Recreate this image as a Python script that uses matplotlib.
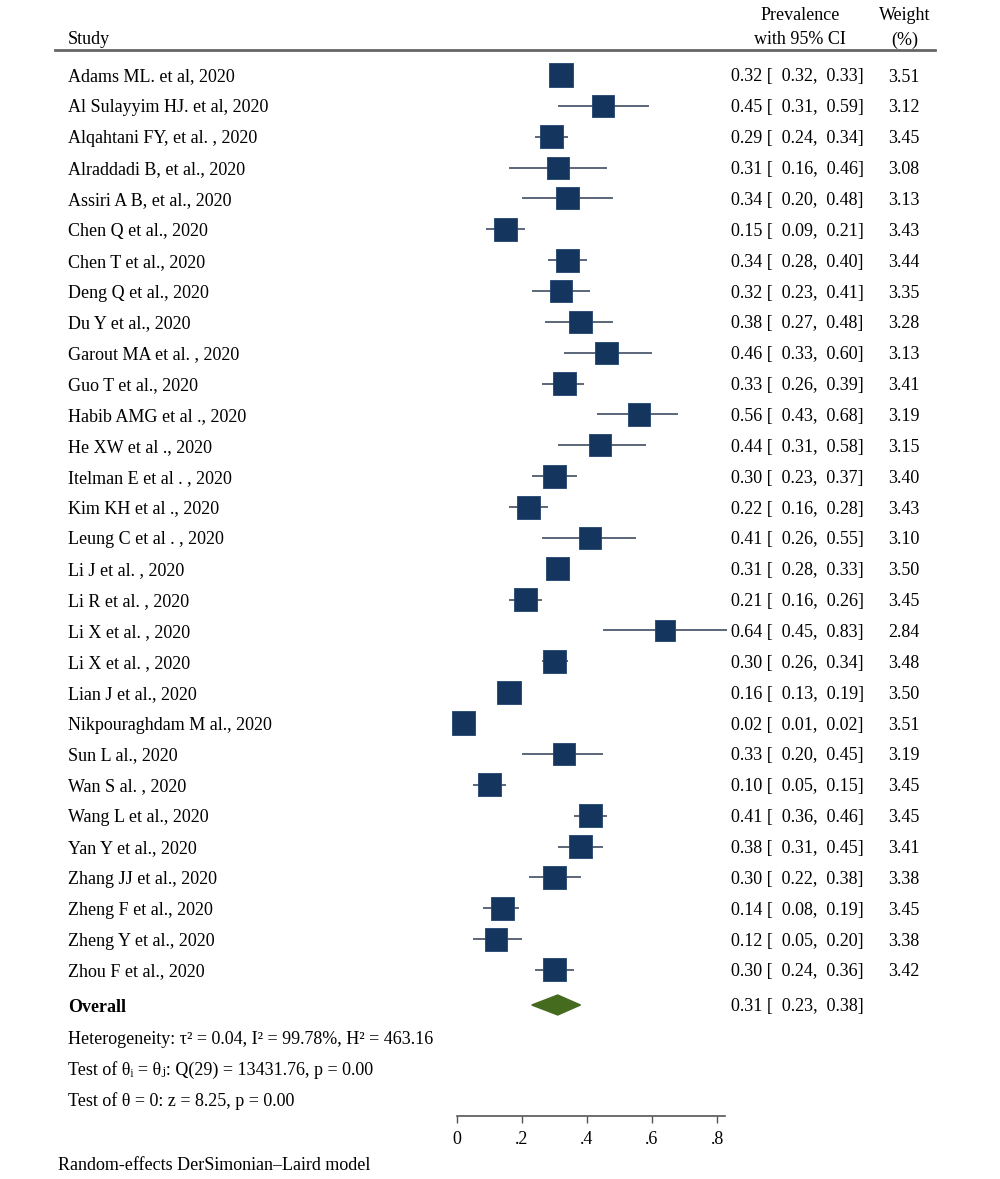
import numpy as np
import matplotlib
matplotlib.use("Agg")
import matplotlib.pyplot as plt
from matplotlib.patches import Polygon
import matplotlib.transforms as mtransforms

studies = ["Adams ML. et al, 2020", "Al Sulayyim HJ. et al, 2020", "Alqahtani FY, et al. , 2020",
           "Alraddadi B, et al., 2020", "Assiri A B, et al., 2020", "Chen Q et al., 2020",
           "Chen T et al., 2020", "Deng Q et al., 2020", "Du Y et al., 2020",
           "Garout MA et al. , 2020", "Guo T et al., 2020", "Habib AMG et al ., 2020",
           "He XW et al ., 2020", "Itelman E et al . , 2020", "Kim KH et al ., 2020",
           "Leung C et al . , 2020", "Li J et al. , 2020", "Li R et al. , 2020",
           "Li X et al. , 2020", "Li X et al. , 2020", "Lian J et al., 2020",
           "Nikpouraghdam M al., 2020", "Sun L al., 2020", "Wan S al. , 2020",
           "Wang L et al., 2020", "Yan Y et al., 2020", "Zhang JJ et al., 2020",
           "Zheng F et al., 2020", "Zheng Y et al., 2020", "Zhou F et al., 2020"]
est = [0.32, 0.45, 0.29, 0.31, 0.34, 0.15, 0.34, 0.32, 0.38, 0.46, 0.33, 0.56, 0.44, 0.30, 0.22,
       0.41, 0.31, 0.21, 0.64, 0.30, 0.16, 0.02, 0.33, 0.10, 0.41, 0.38, 0.30, 0.14, 0.12, 0.30]
lo = [0.32, 0.31, 0.24, 0.16, 0.20, 0.09, 0.28, 0.23, 0.27, 0.33, 0.26, 0.43, 0.31, 0.23, 0.16,
      0.26, 0.28, 0.16, 0.45, 0.26, 0.13, 0.01, 0.20, 0.05, 0.36, 0.31, 0.22, 0.08, 0.05, 0.24]
hi = [0.33, 0.59, 0.34, 0.46, 0.48, 0.21, 0.40, 0.41, 0.48, 0.60, 0.39, 0.68, 0.58, 0.37, 0.28,
      0.55, 0.33, 0.26, 0.83, 0.34, 0.19, 0.02, 0.45, 0.15, 0.46, 0.45, 0.38, 0.19, 0.20, 0.36]
weights = [3.51, 3.12, 3.45, 3.08, 3.13, 3.43, 3.44, 3.35, 3.28, 3.13, 3.41, 3.19, 3.15, 3.40, 3.43,
           3.10, 3.50, 3.45, 2.84, 3.48, 3.50, 3.51, 3.19, 3.45, 3.45, 3.41, 3.38, 3.45, 3.38, 3.42]
overall = [0.31, 0.23, 0.38]
xticks = [0, 0.2, 0.4, 0.6, 0.8]
xticklabels = ["0", ".2", ".4", ".6", ".8"]

plt.rcParams['font.family'] = ['Liberation Serif', 'DejaVu Serif']
fs = 13
navy = "#13355e"

fig = plt.figure(figsize=(10, 11.79), dpi=100)
ax = fig.add_axes([0, 0, 1, 1])
ax.patch.set_alpha(0)

# pixel mapping: x=0 at px 457, 0.8 at px 717; row 0 at px 75, 30.86 px per row
ppu = 260 / 0.8
ax.set_xlim(-457 / ppu, (1000 - 457) / ppu)
rowpx = 30.86
ax.set_ylim((1179 - 75) / rowpx, -75 / rowpx)

def py(p):
    return (p - 75) / rowpx

n = len(studies)
rows = np.arange(n)
ax.hlines(rows, lo, hi, color="#2f3f55", lw=1.1, zorder=2)
ax.scatter(est, rows, marker="s", s=16.8 ** 2 * np.array(weights) / 3.51, color=navy, zorder=3,
           edgecolors="#1f4570", linewidths=0.6)

yo = py(1005)
dh = 10 / rowpx
diamond = Polygon([(overall[1], yo), (overall[0], yo - dh), (overall[2], yo), (overall[0], yo + dh)],
                  closed=True, color="#456b1f", zorder=3)
ax.add_patch(diamond)

# x axis
for s in ["left", "right", "top"]:
    ax.spines[s].set_visible(False)
ax.spines["bottom"].set_position(("data", py(1116)))
ax.spines["bottom"].set_bounds(0, 0.825)
ax.spines["bottom"].set_color("#555555")
ax.spines["bottom"].set_linewidth(1.2)
ax.set_yticks([])
ax.set_xticks(xticks)
ax.set_xticklabels(xticklabels, fontsize=fs)
ax.tick_params(axis="x", direction="out", length=5, width=1, color="#555555", pad=6)

trans = mtransforms.blended_transform_factory(fig.transFigure, ax.transData)

def fx(p):
    return p / 1000

va = "center_baseline"
for i in range(n):
    ax.text(fx(68), i, studies[i], transform=trans, fontsize=fs, va=va, ha="left")
    ax.text(fx(731), i, "%.2f [  %.2f,  %.2f]" % (est[i], lo[i], hi[i]), transform=trans,
            fontsize=fs, va=va, ha="left")
    ax.text(fx(904), i, "%.2f" % weights[i], transform=trans, fontsize=fs, va=va, ha="center")

# header
ax.text(fx(68), py(38), "Study", transform=trans, fontsize=fs, va=va)
ax.text(fx(800), py(14), "Prevalence", transform=trans, fontsize=fs, va=va, ha="center")
ax.text(fx(800), py(38), "with 95% CI", transform=trans, fontsize=fs, va=va, ha="center")
ax.text(fx(905), py(14), "Weight", transform=trans, fontsize=fs, va=va, ha="center")
ax.text(fx(905), py(38), "(%)", transform=trans, fontsize=fs, va=va, ha="center")
ax.plot([fx(55), fx(935)], [py(50), py(50)], transform=trans, color="#666666", lw=2, clip_on=False)

# overall and stats
ax.text(fx(68), yo, "Overall", transform=trans, fontsize=fs, va=va, fontweight="bold")
ax.text(fx(731), yo, "%.2f [  %.2f,  %.2f]" % tuple(overall), transform=trans, fontsize=fs, va=va)
ax.text(fx(68), py(1037), "Heterogeneity: \u03c4\u00b2 = 0.04, I\u00b2 = 99.78%, H\u00b2 = 463.16",
        transform=trans, fontsize=fs, va=va)
ax.text(fx(68), py(1068), "Test of \u03b8\u1d62 = \u03b8\u2c7c: Q(29) = 13431.76, p = 0.00",
        transform=trans, fontsize=fs, va=va)
ax.text(fx(68), py(1099), "Test of \u03b8 = 0: z = 8.25, p = 0.00", transform=trans, fontsize=fs, va=va)
ax.text(fx(58), py(1163), "Random-effects DerSimonian\u2013Laird model", transform=trans, fontsize=fs, va=va)

fig.savefig("out.png", dpi=100)
